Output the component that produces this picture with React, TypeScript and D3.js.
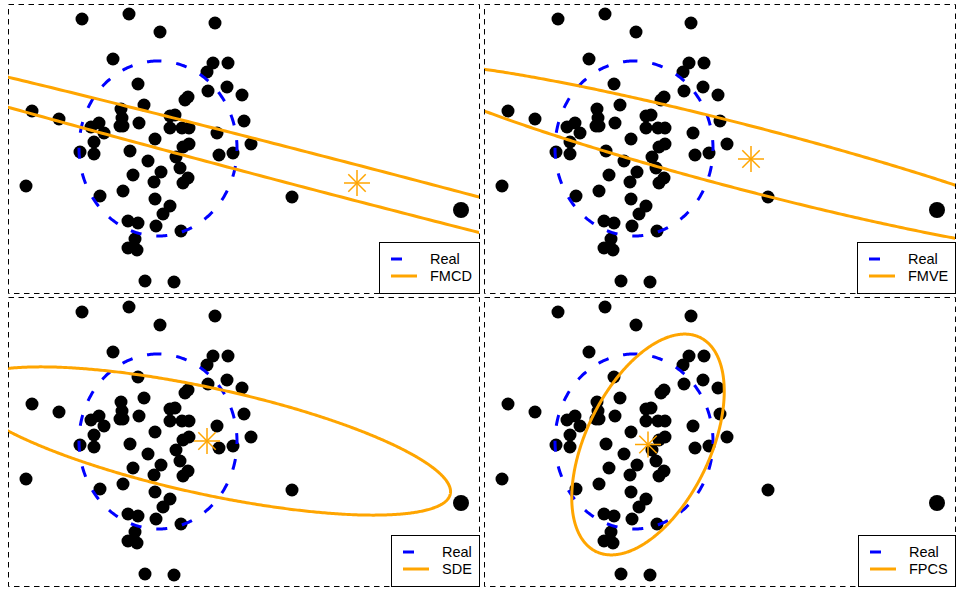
import React from 'react';
import * as d3 from 'd3';

// ---- data (same sample in every panel) ----
const pointsX = [7.4, 12.1, 20.7, 15.2, 10.5, 20.5, 22.0, 19.9, 13.0, 21.9, 20.0, 23.4, 18.0, 17.7, 13.6, 2.4, 5.1, 11.3, 11.4, 11.5, 11.2, 13.1, 9.1, 8.3, 9.6, 16.2, 16.7, 16.2, 17.4, 18.1, 23.6, 20.9, 14.7, 24.3, 8.6, 7.2, 8.6, 12.2, 17.5, 18.1, 21.1, 22.5, 16.8, 14.0, 17.2, 15.3, 12.5, 18.0, 17.5, 14.6, 1.8, 11.5, 9.2, 28.4, 14.7, 16.2, 15.5, 12.0, 13.0, 14.8, 17.3, 12.7, 12.0, 12.9, 13.7, 16.6];
const pointsY = [27.4, 27.9, 27.0, 26.1, 23.4, 23.0, 23.0, 22.1, 20.9, 20.6, 20.2, 19.8, 19.6, 19.3, 18.8, 18.2, 17.4, 18.4, 17.5, 16.7, 16.7, 17.0, 17.0, 16.6, 16.0, 17.7, 17.8, 16.5, 16.5, 16.5, 17.2, 16.0, 15.4, 14.9, 15.1, 14.1, 13.9, 14.2, 14.6, 14.9, 13.8, 14.0, 13.6, 13.2, 12.5, 12.1, 11.8, 11.5, 11.0, 11.1, 10.7, 10.2, 9.7, 9.6, 9.4, 8.7, 7.9, 7.2, 7.0, 6.7, 6.2, 5.4, 4.5, 4.3, 1.2, 1.1];
const outlierX = [45.3];
const outlierY = [8.3];

// true (Real) dispersion contour
const realCenterX = 15.0;
const realCenterY = 14.45;
const realRadiusX = 7.9;
const realRadiusY = 8.75;

// estimated contours per method
const methods = ['FMCD', 'FMVE', 'SDE', 'FPCS'];
const estCenterX = [34.9, 26.7, 19.9, 16.4];
const estCenterY = [11.0, 13.4, 14.5, 14.15];
const estMajor = [65, 35.5, 24.9, 11.9];
const estMinor = [1.75, 3.2, 5.3, 6.2];
const estAngleDeg = [-14.6, -14.6, -12.3, 64.1];

const xDomain = [0, 47.1];
const yDomain = [0, 28.9];

// ---- layout ----
const W = 956;
const H = 589;
const panelW = 471;
const panelH = 289;
const panelPos = [
  [8, 4],
  [484, 4],
  [8, 297],
  [484, 297],
];
const FONT = '"Liberation Sans", Arial, Helvetica, sans-serif';
const FONT_SIZE = 14.5;
const ORANGE = '#FFA500';
const BLUE = '#0000FF';

function measure(text: string): number {
  try {
    const c = document.createElement('canvas');
    const ctx = c.getContext('2d');
    if (ctx) {
      ctx.font = `${FONT_SIZE}px ${FONT}`;
      return ctx.measureText(text).width;
    }
  } catch (e) {}
  return text.length * 9;
}

function ellipseData(cx: number, cy: number, a: number, b: number, angDeg: number) {
  const A = (angDeg * Math.PI) / 180;
  const ca = Math.cos(A);
  const sa = Math.sin(A);
  return d3.range(0, 721).map((i) => {
    const t = (i / 720) * 2 * Math.PI;
    const u = a * Math.cos(t);
    const v = b * Math.sin(t);
    return [cx + u * ca - v * sa, cy + u * sa + v * ca] as [number, number];
  });
}

function Panel({ idx }: { idx: number }) {
  const [px, py] = panelPos[idx];
  const x = d3.scaleLinear().domain(xDomain).range([0, panelW]);
  const y = d3.scaleLinear().domain(yDomain).range([panelH, 0]);
  const line = d3
    .line<[number, number]>()
    .x((d) => x(d[0]))
    .y((d) => y(d[1]))
    .curve(d3.curveLinearClosed);

  const realPts = d3.range(0, 361).map((i) => {
    const t = Math.PI / 2 + (i / 360) * 2 * Math.PI;
    return [realCenterX + realRadiusX * Math.cos(t), realCenterY + realRadiusY * Math.sin(t)] as [number, number];
  });
  const estPts = ellipseData(estCenterX[idx], estCenterY[idx], estMajor[idx], estMinor[idx], estAngleDeg[idx]);
  const sx = x(estCenterX[idx]);
  const sy = y(estCenterY[idx]);
  const starR = 13;
  const starAngles = [0, 45, 90, 135];

  const label = methods[idx];
  const textW = Math.max(measure('Real'), measure(label));
  const boxW = Math.round(12 + 26 + 13 + textW + 7);
  const boxH = 51;
  const bx = panelW - boxW;
  const by = panelH - boxH;
  const clipId = `clip-${idx}`;

  return (
    <g transform={`translate(${px},${py})`}>
      <defs>
        <clipPath id={clipId}>
          <rect x={0} y={0} width={panelW} height={panelH} />
        </clipPath>
      </defs>
      <g clipPath={`url(#${clipId})`}>
        {pointsX.map((v, i) => (
          <circle key={i} cx={x(v)} cy={y(pointsY[i])} r={6.5} fill="#000" />
        ))}
        {outlierX.map((v, i) => (
          <circle key={'o' + i} cx={x(v)} cy={y(outlierY[i])} r={8} fill="#000" />
        ))}
        <path d={line(realPts) || ''} fill="none" stroke={BLUE} strokeWidth={3} strokeDasharray="11,15" />
        <path d={line(estPts) || ''} fill="none" stroke={ORANGE} strokeWidth={3} />
        {starAngles.map((a) => {
          const r = (a * Math.PI) / 180;
          const L = a % 90 === 0 ? starR : starR * 0.95;
          return (
            <line
              key={a}
              x1={sx - L * Math.cos(r)}
              y1={sy - L * Math.sin(r)}
              x2={sx + L * Math.cos(r)}
              y2={sy + L * Math.sin(r)}
              stroke={ORANGE}
              strokeWidth={1.5}
            />
          );
        })}
      </g>
      {/* legend */}
      <g transform={`translate(${bx},${by})`}>
        <rect x={0.5} y={0.5} width={boxW} height={boxH} fill="#fff" stroke="#000" strokeWidth={1} />
        <line x1={12} x2={38} y1={17} y2={17} stroke={BLUE} strokeWidth={3} strokeDasharray="11,15" />
        <line x1={12} x2={38} y1={34} y2={34} stroke={ORANGE} strokeWidth={3} />
        <text x={51} y={17} dy="0.35em" fontFamily={FONT} fontSize={FONT_SIZE} fill="#000">
          Real
        </text>
        <text x={51} y={34} dy="0.35em" fontFamily={FONT} fontSize={FONT_SIZE} fill="#000">
          {label}
        </text>
      </g>
      {/* dashed frame */}
      <rect
        x={0.5}
        y={0.5}
        width={panelW}
        height={panelH}
        fill="none"
        stroke="#000"
        strokeWidth={1}
        strokeDasharray="5.5,4.5"
      />
    </g>
  );
}

export default function App() {
  return (
    <svg
      width={W}
      height={H}
      style={{ position: 'absolute', left: 0, top: 0, background: '#fff' }}
    >
      <rect x={0} y={0} width={W} height={H} fill="#fff" />
      {methods.map((m, i) => (
        <Panel key={m} idx={i} />
      ))}
    </svg>
  );
}
